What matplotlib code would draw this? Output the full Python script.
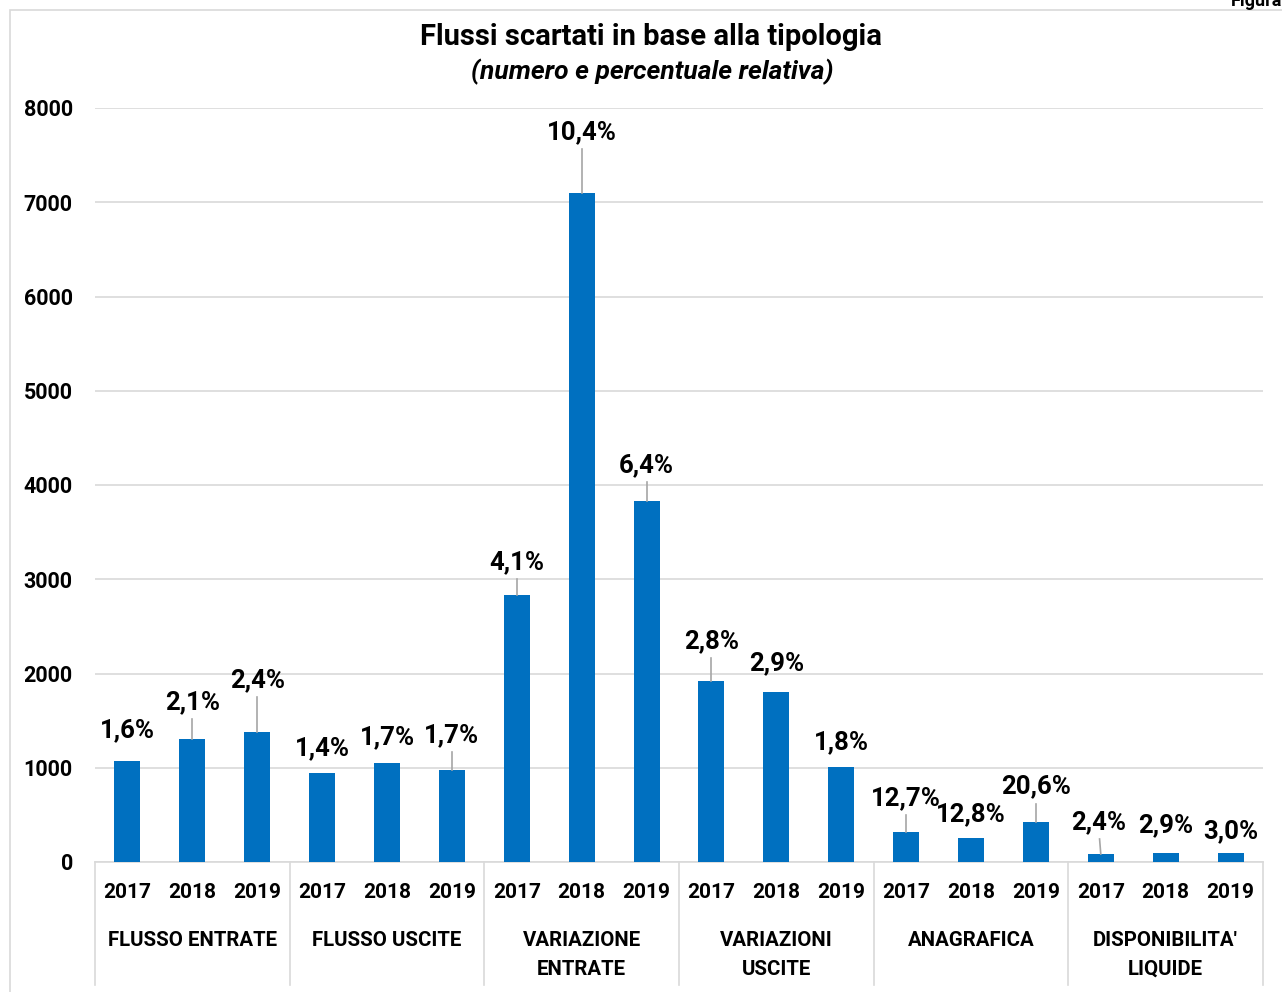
import matplotlib
matplotlib.use("Agg")
import matplotlib.pyplot as plt
from matplotlib.lines import Line2D
from matplotlib.patches import Rectangle
from matplotlib.transforms import IdentityTransform, blended_transform_factory

# ---- data ----
categories = ["FLUSSO ENTRATE", "FLUSSO USCITE", "VARIAZIONE\nENTRATE",
              "VARIAZIONI\nUSCITE", "ANAGRAFICA", "DISPONIBILITA'\nLIQUIDE"]
years = ["2017", "2018", "2019"]
flusso_entrate = [1072, 1305, 1379]
flusso_uscite = [944, 1050, 976]
variazione_entrate = [2833, 7098, 3830]
variazioni_uscite = [1920, 1804, 1005]
anagrafica = [321, 258, 428]
disponibilita = [85, 95, 97]
pct_flusso_entrate = ["1,6%", "2,1%", "2,4%"]
pct_flusso_uscite = ["1,4%", "1,7%", "1,7%"]
pct_variazione_entrate = ["4,1%", "10,4%", "6,4%"]
pct_variazioni_uscite = ["2,8%", "2,9%", "1,8%"]
pct_anagrafica = ["12,7%", "12,8%", "20,6%"]
pct_disponibilita = ["2,4%", "2,9%", "3,0%"]
yticks = [0, 1000, 2000, 3000, 4000, 5000, 6000, 7000, 8000]

values = flusso_entrate + flusso_uscite + variazione_entrate + variazioni_uscite + anagrafica + disponibilita
pcts = (pct_flusso_entrate + pct_flusso_uscite + pct_variazione_entrate +
        pct_variazioni_uscite + pct_anagrafica + pct_disponibilita)

# ---- layout of data labels (pixel offsets from bar top, leader line flag) ----
label_dy = [31, 37, 52, 25, 26, 35, 33, 61, 36, 40, 29, 25, 34, 23, 35, 32, 28, 22]
label_dx = [0, 0, 0, 0, 0, 0, 0, 0, 0, 0, 0, 0, 0, 0, 0, -2, 0, 0]
leader = [False, True, True, False, False, True, True, True, True, True, False, False,
          True, False, True, True, False, False]

FONT = ["Roboto", "DejaVu Sans"]
plt.rcParams['font.family'] = FONT

W, H = 1282, 992
fig = plt.figure(figsize=(W / 100, H / 100), dpi=100)
fig.patch.set_facecolor("white")

# outer chart border (left & top visible)
fig.add_artist(Rectangle((10 / W, -0.05), 1.2, 1 - 10 / H + 0.05, transform=fig.transFigure,
                         fill=False, edgecolor="#d9d9d9", linewidth=1.2))
fig.text(1.0, 1 - 1 / H, "Figura", ha="right", va="center", fontsize=13,
         fontweight="bold", color="#000000")

x0, x1, ytop, ybot = 95, 1263, 108, 862
ax = fig.add_axes([x0 / W, 1 - ybot / H, (x1 - x0) / W, (ybot - ytop) / H])
n = len(values)
xs = list(range(n))
ax.bar(xs, values, width=0.4, color="#0070C0", zorder=3)
ax.set_xlim(-0.5, n - 0.5)
ax.set_ylim(0, 8000)
ax.set_yticks(yticks)
ax.set_yticklabels([str(t) for t in yticks], fontsize=15.5, fontweight="bold")
ax.tick_params(axis="y", length=0, pad=16)
ax.set_xticks([])
ax.grid(axis="y", color="#d9d9d9", linewidth=1.2, zorder=0)
for s in ["top", "right", "left"]:
    ax.spines[s].set_visible(False)
ax.spines["bottom"].set_color("#d9d9d9")
ax.spines["bottom"].set_linewidth(1.2)

fig.text(651 / W, 1 - 37 / H, "Flussi scartati in base alla tipologia", ha="center", va="center",
         fontsize=21, fontweight="bold")
fig.text(652 / W, 1 - 72 / H, "(numero e percentuale relativa)", ha="center", va="center",
         fontsize=19, fontweight="bold", fontstyle="italic")

# data labels
fig.canvas.draw()
for i, (v, p) in enumerate(zip(values, pcts)):
    ax.annotate(p, xy=(i, v), xytext=(label_dx[i], label_dy[i]), textcoords="offset pixels",
                ha="center", va="center", fontsize=18.5, fontweight="bold", zorder=5)
    if leader[i]:
        px, py = ax.transData.transform((i, v))
        fig.add_artist(Line2D([px, px + label_dx[i] * 0.6], [py, py + label_dy[i] - 17],
                              transform=IdentityTransform(), color="#a6a6a6", linewidth=1.2))

# category axis
bt = blended_transform_factory(ax.transData, ax.transAxes)
span = ybot - ytop
def yf(pix):
    return (ybot - pix) / span

for i in range(n):
    ax.text(i, yf(893), years[i % 3], transform=bt, ha="center", va="center",
            fontsize=15, fontweight="bold", clip_on=False)
for g, cat in enumerate(categories):
    center = g * 3 + 1
    if "\n" in cat:
        ax.text(center, yf(955), cat, transform=bt, ha="center", va="center",
                fontsize=14.7, fontweight="bold", clip_on=False, linespacing=1.65)
    else:
        ax.text(center, yf(940), cat, transform=bt, ha="center", va="center",
                fontsize=14.7, fontweight="bold", clip_on=False)
for b in range(len(categories) + 1):
    ax.add_line(Line2D([b * 3 - 0.5, b * 3 - 0.5], [0, yf(985)], transform=bt,
                       color="#d9d9d9", linewidth=1.2, clip_on=False))

fig.savefig("out.png", dpi=100, facecolor="white")
